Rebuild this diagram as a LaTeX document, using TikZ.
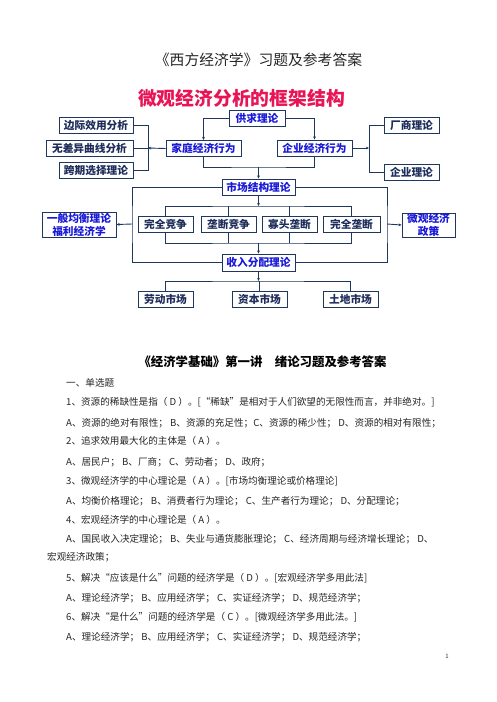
\documentclass[tikz,border=0pt]{standalone}
\usepackage{fontspec}
\setmainfont{Noto Sans CJK SC}
\usetikzlibrary{arrows.meta}
\definecolor{boxline}{RGB}{30,55,95}
\definecolor{txtblue}{RGB}{25,25,215}
\definecolor{txtdark}{RGB}{30,45,90}
\definecolor{titlered}{RGB}{232,20,85}
\begin{document}
\begin{tikzpicture}[x=1pt,y=-1pt,
  bx/.style={draw=boxline, line width=0.9pt, fill=white, inner sep=0pt, minimum height=16pt,
    font=\fontsize{10.7}{13}\selectfont\bfseries, align=center},
  bl/.style={bx, text=txtblue},
  bd/.style={bx, text=txtdark},
  ln/.style={draw=boxline, line width=0.9pt},
  arr/.style={ln, -{Stealth[length=3.2pt,width=2.8pt]}},
  body/.style={anchor=west, inner sep=0pt, font=\fontsize{9.6}{11}\selectfont, text=black!85}]
\fill[white] (0,0) rectangle (496,702);
\useasboundingbox (0,0) rectangle (496,702);

% titles
\node[inner sep=0pt, font=\fontsize{14.8}{16}\selectfont, text=black!85] (t1) at (258.5,60) {《西方经济学》习题及参考答案};
\node[inner sep=0pt, font=\fontsize{18.8}{20}\selectfont\bfseries, text=titlered] (t2) at (241.5,98) {微观经济分析的框架结构};

% boxes
\node[bl, minimum width=56pt] (gq) at (257,118) {供求理论};
\node[bd, minimum width=74pt] (bj) at (96,125) {边际效用分析};
\node[bd, minimum width=87pt] (wc) at (89.5,148) {无差异曲线分析};
\node[bd, minimum width=74pt] (kq) at (96,170) {跨期选择理论};
\node[bl, minimum width=75pt] (jt) at (203.5,148.5) {家庭经济行为};
\node[bl, minimum width=75pt] (qy) at (314.5,148) {企业经济行为};
\node[bd, minimum width=55pt] (cs) at (411.5,125) {厂商理论};
\node[bd, minimum width=55pt] (ql) at (411.5,172) {企业理论};
\node[bl, minimum width=73pt] (sc) at (258.5,187) {市场结构理论};
\node[bl, minimum width=74pt, minimum height=25pt] (yb) at (79,224.5) {一般均衡理论\\福利经济学};
\node[bl, minimum width=53pt, minimum height=24pt] (wz) at (428.5,225) {微观经济\\政策};
\node[bd, minimum width=55pt] (wq) at (165.5,224) {完全竞争};
\node[bd, minimum width=55pt] (ld) at (228.5,224) {垄断竞争};
\node[bd, minimum width=55pt] (gt) at (289.5,224) {寡头垄断};
\node[bd, minimum width=57pt] (wl) at (351.5,224) {完全垄断};
\node[bl, minimum width=73pt, minimum height=17pt] (sr) at (258.5,262.5) {收入分配理论};
\node[bd, minimum width=55pt] (lm) at (165.5,299) {劳动市场};
\node[bd, minimum width=55pt] (zb) at (259.5,299) {资本市场};
\node[bd, minimum width=55pt] (td) at (350.5,299) {土地市场};

% junction coordinates
\coordinate (lb) at (148,148);
\coordinate (lbt) at (148,125);
\coordinate (lbb) at (148,170);
\coordinate (rb) at (369,148);
\coordinate (rbt) at (369,125);
\coordinate (rbb) at (369,172);
\coordinate (j1) at (258.5,167);
\coordinate (cl) at (132,224);
\coordinate (cr) at (387,224);
\coordinate (j2) at (258.5,206);
\coordinate (j3) at (258.5,243);
\coordinate (j4) at (258.5,281);

% connectors
\draw[arr] (gq.west) -| (jt.north);
\draw[arr] (gq.east) -| (qy.north);
\draw[ln] (bj.east) -- (lbt) -- (lbb) -- (kq.east);
\draw[ln] (wc.east) -- (lb);
\draw[arr] (jt.west) -- (lb);
\draw[ln] (cs.west) -- (rbt) -- (rbb) -- (ql.west);
\draw[arr] (qy.east) -- (rb);
\draw[ln] (jt.south) |- (j1) -| (qy.south);
\draw[arr] (j1) -- (sc.north);
\draw[ln] (sc.west) -| (cl) |- (sr.west);
\draw[ln] (sc.east) -| (cr) |- (sr.east);
\draw[arr] (cl) -- (yb.east);
\draw[arr] (cr) -- (wz.west);
\draw[arr] (sc.south) -- (j2);
\draw[ln] (wq.north) |- (j2) -| (wl.north);
\draw[ln] (ld.north) -- (ld.north |- j2);
\draw[ln] (gt.north) -- (gt.north |- j2);
\draw[ln] (wq.south) |- (j3) -| (wl.south);
\draw[ln] (ld.south) -- (ld.south |- j3);
\draw[ln] (gt.south) -- (gt.south |- j3);
\draw[arr] (j3) -- (sr.north);
\draw[arr] (sr.south) -- (j4);
\draw[ln] (lm.north) |- (j4) -| (td.north);
\draw[ln] (zb.north) -- (zb.north |- j4);

% text section
\node[inner sep=0pt, font=\fontsize{12.4}{14}\selectfont\bfseries, text=black] (h1) at (262.5,362) {《经济学基础》第一讲　绪论习题及参考答案};
\node[body] (l0) at (66,383) {一、单选题};
\node[body] (l1) at (66,402) {1、资源的稀缺性是指（ D ）。[“稀缺”是相对于人们欲望的无限性而言，并非绝对。]};
\node[body] (l2) at (66,423) {A、资源的绝对有限性； B、资源的充足性；C、资源的稀少性； D、资源的相对有限性；};
\node[body] (l3) at (66,441) {2、追求效用最大化的主体是（ A ）。};
\node[body] (l4) at (66,462) {A、居民户； B、厂商； C、劳动者； D、政府；};
\node[body] (l5) at (66,481) {3、微观经济学的中心理论是（ A ）。[市场均衡理论或价格理论]};
\node[body] (l6) at (66,501) {A、均衡价格理论； B、消费者行为理论； C、生产者行为理论； D、分配理论；};
\node[body] (l7) at (66,520) {4、宏观经济学的中心理论是（ A ）。};
\node[body] (l8) at (66,539) {A、国民收入决定理论； B、失业与通货膨胀理论； C、经济周期与经济增长理论； D、};
\node[body] (l9) at (47,557) {宏观经济政策；};
\node[body] (l10) at (66,578) {5、解决“应该是什么”问题的经济学是（ D ）。[宏观经济学多用此法]};
\node[body] (l11) at (66,598) {A、理论经济学； B、应用经济学； C、实证经济学； D、规范经济学；};
\node[body] (l12) at (66,617) {6、解决“是什么”问题的经济学是（ C ）。[微观经济学多用此法。]};
\node[body] (l13) at (66,637) {A、理论经济学； B、应用经济学； C、实证经济学； D、规范经济学；};
\node[inner sep=0pt, font=\fontsize{6}{7}\selectfont, text=black!80] (pg) at (447,656) {1};
\end{tikzpicture}
\end{document}
